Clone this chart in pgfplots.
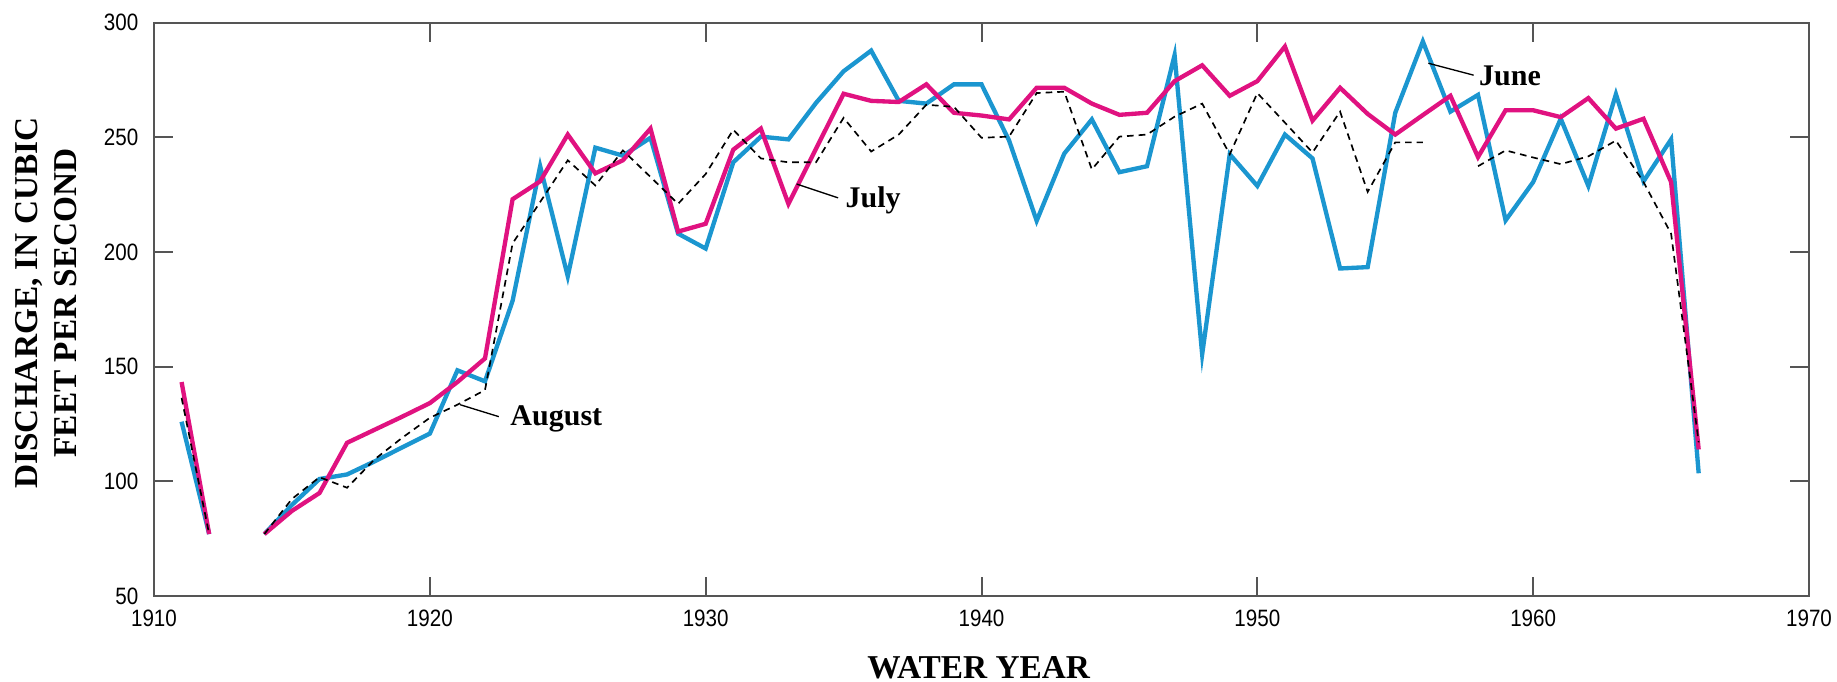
\documentclass[border=0pt]{standalone}
\usepackage{fontspec}
\setmainfont{Liberation Serif}
\newfontfamily\ticksf[FakeStretch=0.87]{Liberation Sans}
\usepackage{pgfplots}
\usepackage{pgfplotstable}
\pgfplotsset{compat=1.18}
\definecolor{juneblue}{RGB}{27,150,208}
\definecolor{julypink}{RGB}{224,18,128}
\definecolor{axgray}{RGB}{85,85,85}

\pgfplotstableread{
year june july aug
1911 126 143.3 136.4
1912 77 77 77
1913 nan nan nan
1914 77 77 77
1915 89.7 87.1 92.3
1916 101 94.9 101.8
1917 103 116.8 97.2
1918 108.7 122.5 109.6
1919 114.8 128.2 119
1920 120.8 134.1 127.7
1921 148.4 143.3 133.4
1922 143.6 153.6 139.8
1923 178.7 223 203.7
1924 237.4 230.8 221.8
1925 189.4 251.2 240
1926 245.5 234.3 229
1927 242 240 244.3
1928 249.8 253.8 232.7
1929 208 208.9 221
1930 201.5 212.3 234
1931 239.1 244.6 253.3
1932 250.3 253.8 240.8
1933 249.1 221 239.1
1934 265 245 239.1
1935 278.8 269 258.5
1936 287.8 265.9 243.8
1937 265.9 265.4 251.2
1938 264.7 273.1 264.2
1939 273.1 260.7 263.3
1940 273.1 259.5 249.8
1941 248.6 257.8 250.3
1942 213.6 271.6 269.3
1943 242.9 271.6 269.9
1944 257.8 264.7 236
1945 234.8 259.8 250.3
1946 237.4 260.7 251.2
1947 285.8 274.5 259
1948 155.4 281.4 264.7
1949 242.6 268.1 242.6
1950 228.8 274.5 269.3
1951 251.2 289.6 256.4
1952 240.8 257.3 243.4
1953 192.8 271.6 261.2
1954 193.4 260.2 226.2
1955 260.7 251.2 247.8
1956 291.8 259.7 247.8
1957 261.2 268.1 nan
1958 268.5 241.4 237.4
1959 213.8 261.8 244.3
1960 230.5 261.8 241.2
1961 258.1 258.8 238.3
1962 228.8 267.1 241.7
1963 268.8 253.8 248.6
1964 230.8 258.1 230.5
1965 249.1 230.5 208
1966 103.5 113.9 117
}\data

\begin{document}
\begin{tikzpicture}
\begin{axis}[
  scale only axis, width=496.5pt, height=172pt,
  xmin=1910, xmax=1970, ymin=50, ymax=300,
  xtick={1910,1920,...,1970}, ytick={50,100,...,300},
  tick align=inside, major tick length=5.7pt,
  axis line style={axgray, line width=0.6pt},
  every tick/.style={axgray, line width=0.6pt},
  /pgf/number format/assume math mode=true,
  /pgf/number format/1000 sep={},
  ticklabel style={font=\ticksf\fontsize{7.1}{8}\selectfont, inner sep=0pt},
  xticklabel style={yshift=-3.9pt},
  yticklabel style={xshift=-4.5pt},
  unbounded coords=jump,
  clip=false,
]
\coordinate (bl) at (rel axis cs:0,0);
\coordinate (tr) at (rel axis cs:1,1);
\addplot[juneblue, line width=1.3pt] table[x=year,y=june]{\data};
\addplot[julypink, line width=1.3pt] table[x=year,y=july]{\data};
\addplot[black, line width=0.5pt, dash pattern=on 2pt off 1.5pt] table[x=year,y=aug]{\data};

\draw[black, line width=0.4pt] (axis cs:1921.1,133.4) -- (axis cs:1922.5,128.2);
\node[anchor=base west, inner sep=0pt, font=\bfseries\fontsize{9}{10}\selectfont] at (axis cs:1922.9,124.3) {August};
\draw[black, line width=0.4pt] (axis cs:1933.3,229.6) -- (axis cs:1934.8,223.6);
\node[anchor=base west, inner sep=0pt, font=\bfseries\fontsize{9}{10}\selectfont] at (axis cs:1935.05,219.3) {July};
\draw[black, line width=0.4pt] (axis cs:1956.2,282.3) -- (axis cs:1957.84,277.1);
\node[anchor=base west, inner sep=0pt, font=\bfseries\fontsize{9}{10}\selectfont] at (axis cs:1958.02,272.8) {June};

\node[rotate=90, align=center, font=\bfseries\fontsize{10}{11.7}\selectfont] at (axis cs:1906.1,177.8) {DISCHARGE, IN CUBIC\\FEET PER SECOND};
\node[anchor=base, inner sep=0pt, font=\bfseries\fontsize{10}{12}\selectfont] at (axis cs:1939.9,13.9) {WATER YEAR};
\end{axis}
\pgfresetboundingbox
\path[use as bounding box] ([xshift=-46.2pt,yshift=-25.8pt]bl) rectangle ([xshift=8.4pt,yshift=6.8pt]tr);
\end{tikzpicture}
\end{document}
